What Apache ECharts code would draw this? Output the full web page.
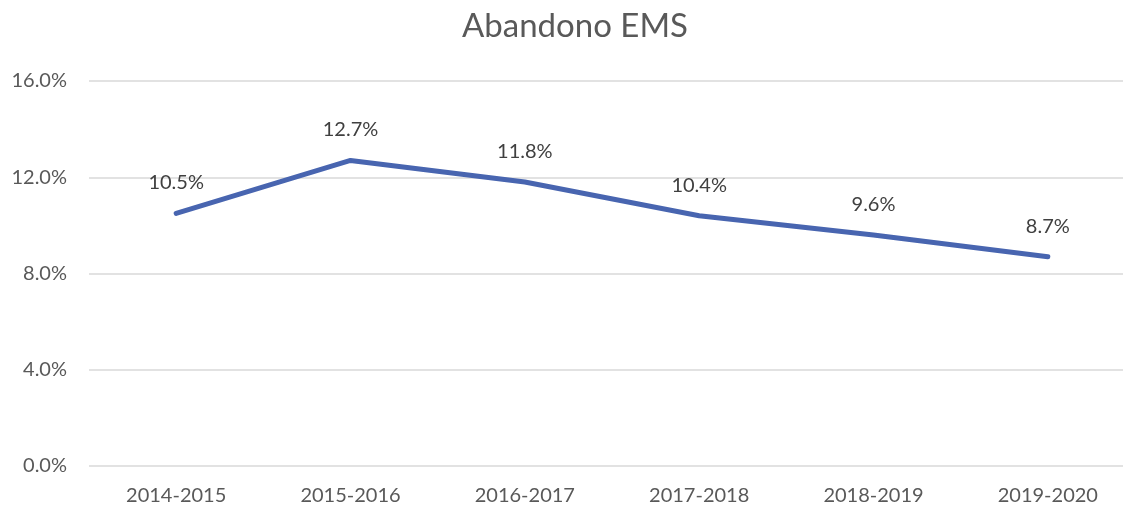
<!DOCTYPE html>
<html>
<head>
<meta charset="utf-8">
<script src="https://cdn.jsdelivr.net/npm/echarts@6/dist/echarts.min.js"></script>
<style>
  html, body { margin: 0; padding: 0; background: #fff; overflow: hidden; }
  #chart { width: 1150px; height: 508px; }
</style>
</head>
<body>
<div id="chart"></div>
<script>
// school years and dropout rate (%)
let years = ['2014-2015', '2015-2016', '2016-2017', '2017-2018', '2018-2019', '2019-2020'];
let abandono = [10.5, 12.7, 11.8, 10.4, 9.6, 8.7];

let chart = echarts.init(document.getElementById('chart'));
let option = {
  animation: false,
  textStyle: { fontFamily: 'Lato' },
  title: {
    text: 'Abandono EMS',
    left: 'center',
    top: 5,
    textStyle: { fontSize: 33, fontWeight: 'normal', color: '#595959', fontFamily: 'Lato' }
  },
  grid: { left: 89, top: 81, right: 15, bottom: 42, containLabel: false },
  xAxis: {
    type: 'category',
    data: years,
    axisLine: { show: false },
    axisTick: { show: false },
    axisLabel: { color: '#595959', fontSize: 20, margin: 20 }
  },
  yAxis: {
    type: 'value',
    min: 0,
    max: 16,
    interval: 4,
    axisLabel: {
      color: '#595959',
      fontSize: 20,
      margin: 22,
      formatter: v => v.toFixed(1) + '%'
    },
    splitLine: { lineStyle: { color: '#d9d9d9', width: 1.5 } }
  },
  series: [{
    type: 'line',
    data: abandono,
    symbol: 'circle',
    symbolSize: 3,
    showSymbol: true,
    itemStyle: { color: '#4865B0' },
    lineStyle: { color: '#4865B0', width: 5, cap: 'round' },
    label: {
      show: true,
      position: 'top',
      distance: 19,
      color: '#404040',
      fontSize: 20,
      formatter: p => p.value.toFixed(1) + '%'
    }
  }]
};
chart.setOption(option);
</script>
</body>
</html>
